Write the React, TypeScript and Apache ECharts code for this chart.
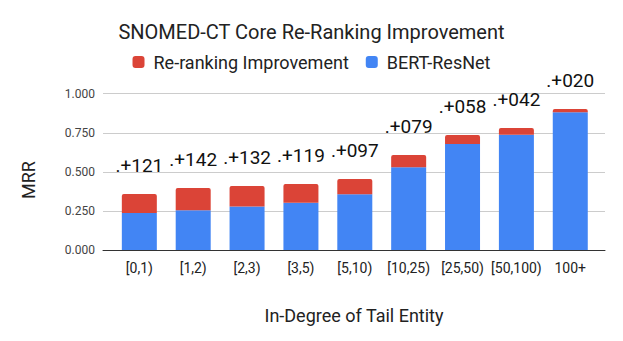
import React, { useEffect, useRef } from "react";
import * as echarts from "echarts";

const categories = ["[0,1)", "[1,2)", "[2,3)", "[3,5)", "[5,10)", "[10,25)", "[25,50)", "[50,100)", "100+"];
const bertResNet = [0.237, 0.255, 0.278, 0.303, 0.357, 0.529, 0.678, 0.738, 0.882];
const improvement = [0.121, 0.142, 0.132, 0.119, 0.097, 0.079, 0.058, 0.042, 0.020];
const improvementLabels = [".+121", ".+142", ".+132", ".+119", ".+097", ".+079", ".+058", ".+042", ".+020"];
const yTicks = [0, 0.25, 0.5, 0.75, 1.0];

const FONT = "Roboto, 'Noto Sans', sans-serif";

export default function App() {
  const ref = useRef<HTMLDivElement>(null);
  useEffect(() => {
    if (!ref.current) return;
    const chart = echarts.init(ref.current, undefined, { renderer: "svg" });
    const top = 93.7;
    const bottom = 91;
    chart.setOption({
      animation: false,
      backgroundColor: "#ffffff",
      textStyle: { fontFamily: FONT },
      title: {
        text: "SNOMED-CT Core Re-Ranking Improvement",
        left: "center",
        top: 17,
        textStyle: { fontFamily: FONT, fontSize: 20, fontWeight: "normal", color: "#222222" },
      },
      legend: {
        data: ["Re-ranking Improvement", "BERT-ResNet"],
        top: 48,
        left: "center",
        itemWidth: 12,
        itemHeight: 12,
        itemGap: 17,
        icon: "roundRect",
        textStyle: { fontFamily: FONT, fontSize: 18, color: "#222222", padding: [0, 0, 0, 4] },
      },
      grid: [
        { left: 103, right: 18, top, bottom },
        { left: 112.4, right: 623 - 597.2, top, bottom },
      ],
      xAxis: [
        {
          gridIndex: 0,
          type: "value",
          min: 0,
          max: 1,
          axisLine: { show: true, lineStyle: { color: "#333333", width: 1 } },
          axisTick: { show: false },
          axisLabel: { show: false },
          splitLine: { show: false },
        },
        {
          gridIndex: 1,
          type: "category",
          data: categories,
          axisLine: { show: false },
          axisTick: { show: false },
          axisLabel: { fontFamily: FONT, fontSize: 14, color: "#222222", margin: 11, interval: 0 },
          splitLine: { show: false },
        },
      ],
      yAxis: [
        {
          gridIndex: 0,
          type: "value",
          min: 0,
          max: 1,
          interval: 0.25,
          axisLine: { show: false },
          axisTick: { show: false },
          axisLabel: {
            fontFamily: FONT,
            fontSize: 12,
            color: "#444444",
            margin: 8,
            formatter: (v: number) => (yTicks.includes(v) ? v.toFixed(3) : ""),
          },
          splitLine: { show: true, lineStyle: { color: "#cccccc", width: 1 } },
        },
        {
          gridIndex: 1,
          type: "value",
          min: 0,
          max: 1,
          show: false,
        },
      ],
      series: [
        {
          name: "BERT-ResNet",
          type: "bar",
          stack: "mrr",
          xAxisIndex: 1,
          yAxisIndex: 1,
          barWidth: 35,
          data: bertResNet,
          itemStyle: { color: "#4285F4" },
        },
        {
          name: "Re-ranking Improvement",
          type: "bar",
          stack: "mrr",
          xAxisIndex: 1,
          yAxisIndex: 1,
          barWidth: 35,
          data: improvement,
          itemStyle: { color: "#DB4437", borderRadius: [2, 2, 0, 0] },
          label: {
            show: true,
            position: "top",
            distance: 19,
            fontFamily: FONT,
            fontSize: 19,
            color: "#111111",
            formatter: (p: any) => improvementLabels[p.dataIndex],
          },
        },
      ],
      graphic: [
        {
          type: "text",
          x: 28,
          y: 180,
          rotation: Math.PI / 2,
          style: {
            text: "MRR",
            fontFamily: FONT,
            fontSize: 18,
            fill: "#222222",
            align: "center",
            verticalAlign: "middle",
          },
        },
        {
          type: "text",
          x: 354,
          y: 315,
          style: {
            text: "In-Degree of Tail Entity",
            fontFamily: FONT,
            fontSize: 18,
            fill: "#222222",
            align: "center",
            verticalAlign: "middle",
          },
        },
      ],
    });
    return () => chart.dispose();
  }, []);
  return (
    <div
      ref={ref}
      style={{ position: "fixed", left: 0, top: 0, width: 623, height: 341 }}
    />
  );
}
